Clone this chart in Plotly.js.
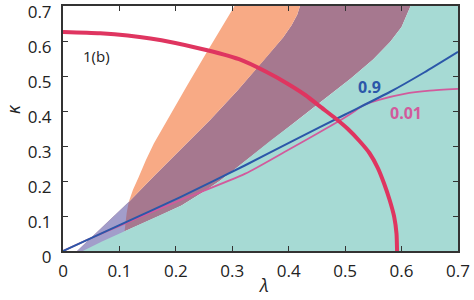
<!DOCTYPE html>
<html>
<head>
<meta charset="utf-8">
<script src="https://cdn.plot.ly/plotly-3.0.1.min.js"></script>
<style>html,body{margin:0;padding:0;background:#fff;}#chart{width:474px;height:300px;}</style>
</head>
<body>
<div id="chart"></div>
<script>
// Teal region boundary (upper-left edge)
var tealLam = [0.035, 0.07, 0.111, 0.17, 0.21, 0.25, 0.28, 0.30, 0.323, 0.368, 0.415, 0.46, 0.51, 0.55, 0.58, 0.60, 0.616];
var tealKap = [0.0, 0.028, 0.058, 0.10, 0.13, 0.17, 0.203, 0.228, 0.258, 0.316, 0.373, 0.43, 0.493, 0.548, 0.598, 0.64, 0.70];
// Lavender region left edge
var lavLam = [0.025, 0.1165];
var lavKap = [0.0, 0.14];
// Orange region left edge
var orangeLam = [0.110, 0.111, 0.113, 0.1165, 0.124, 0.134, 0.147, 0.161, 0.19, 0.22, 0.25, 0.28, 0.304];
var orangeKap = [0.06, 0.083, 0.11, 0.14, 0.175, 0.211, 0.26, 0.307, 0.39, 0.473, 0.555, 0.636, 0.70];
// Mauve (overlap) upper-left edge = orange right edge
var mauveLam = [0.1165, 0.16, 0.208, 0.261, 0.31, 0.356, 0.39, 0.405, 0.415, 0.42];
var mauveKap = [0.14, 0.212, 0.29, 0.375, 0.46, 0.545, 0.61, 0.645, 0.675, 0.70];
// Curve 0.9 (blue)
var blueLam = [0, 0.1, 0.208, 0.323, 0.409, 0.5, 0.58, 0.64, 0.7];
var blueKap = [0, 0.074, 0.154, 0.245, 0.316, 0.39, 0.455, 0.51, 0.569];
// Curve 0.01 (pink)
var pinkLam = [0, 0.05, 0.1, 0.2, 0.323, 0.398, 0.45, 0.49, 0.51, 0.534, 0.56, 0.605, 0.65, 0.7];
var pinkKap = [0, 0.037, 0.072, 0.14, 0.221, 0.288, 0.335, 0.372, 0.392, 0.418, 0.432, 0.449, 0.458, 0.463];
// Curve 1(b) (red)
var redLam = [0, 0.066, 0.155, 0.244, 0.312, 0.36, 0.398, 0.43, 0.457, 0.482, 0.504, 0.525, 0.543, 0.558, 0.569, 0.579, 0.587, 0.591, 0.592];
var redKap = [0.626, 0.622, 0.607, 0.578, 0.548, 0.512, 0.478, 0.445, 0.411, 0.38, 0.35, 0.315, 0.28, 0.237, 0.193, 0.145, 0.097, 0.05, 0.0];
// Ticks
var tickVals = [0, 0.1, 0.2, 0.3, 0.4, 0.5, 0.6, 0.7];
var tickText = ['0', '0.1', '0.2', '0.3', '0.4', '0.5', '0.6', '0.7'];

function rev(a){ return a.slice().reverse(); }

// Build polygons
var mauveX = lavLam.concat(mauveLam.slice(1), rev(tealLam));
var mauveY = lavKap.concat(mauveKap.slice(1), rev(tealKap));
var lavX = lavLam.concat(rev(orangeLam).slice(orangeLam.length - 3), [0.105]);
var lavY = lavKap.concat(rev(orangeKap).slice(orangeKap.length - 3), [0.0]);
var orX = orangeLam.slice(3).concat(rev(mauveLam));
var orY = orangeKap.slice(3).concat(rev(mauveKap));
var tealX = tealLam.concat([0.7, 0.7]);
var tealY = tealKap.concat([0.7, 0.0]);

function poly(x, y, c){
  return {x: x, y: y, type: 'scatter', mode: 'lines', fill: 'toself', fillcolor: c,
          line: {width: 0, color: c}, hoverinfo: 'skip', showlegend: false};
}
function curve(x, y, c, w){
  return {x: x, y: y, type: 'scatter', mode: 'lines', line: {color: c, width: w, shape: 'spline', smoothing: 0.6},
          showlegend: false};
}

var data = [
  poly(mauveX, mauveY, '#a6788f'),
  poly(lavX, lavY, '#a29dca'),
  poly(orX, orY, '#f8aa85'),
  poly(tealX, tealY, '#a6dad4'),
  curve(pinkLam, pinkKap, '#d25a9c', 1.8),
  curve(blueLam, blueKap, '#2b57a9', 2),
  curve(redLam, redKap, '#df3560', 4)
];

var axisCommon = {
  range: [0, 0.7], tickvals: tickVals, ticktext: tickText,
  ticks: 'inside', ticklen: 5, tickwidth: 1, tickcolor: '#333',
  showline: true, linecolor: '#333', linewidth: 2, mirror: 'ticks',
  showgrid: false, zeroline: false, ticklabeloverflow: 'allow',
  tickfont: {family: 'Open Sans', size: 17, color: '#222'}
};

var layout = {
  width: 474, height: 300,
  margin: {l: 63, r: 16, t: 6, b: 49},
  paper_bgcolor: '#fff', plot_bgcolor: '#fff',
  xaxis: Object.assign({}, axisCommon, {ticklabelstandoff: 4}),
  yaxis: Object.assign({}, axisCommon, {ticklabelstandoff: 6, ticklabelshift: 6}),
  annotations: [
    {xref: 'paper', yref: 'paper', x: -0.127, y: 0.579, xanchor: 'center', yanchor: 'middle',
     text: '<i>κ</i>', showarrow: false, textangle: -90,
     font: {family: 'Open Sans', size: 18, color: '#222'}},
    {xref: 'paper', yref: 'paper', x: 0.508, y: -0.14, xanchor: 'center', yanchor: 'middle',
     text: '<i>λ</i>', showarrow: false,
     font: {family: 'Open Sans', size: 18, color: '#222'}},
    {x: 0.059, y: 0.556, text: '1(b)', showarrow: false, font: {family: 'Open Sans', size: 15, color: '#222'}},
    {x: 0.543, y: 0.468, text: '<b>0.9</b>', showarrow: false, font: {family: 'Open Sans', size: 16, color: '#2b57a9'}},
    {x: 0.607, y: 0.395, text: '<b>0.01</b>', showarrow: false, font: {family: 'Open Sans', size: 16, color: '#d25a9c'}}
  ]
};

Plotly.newPlot('chart', data, layout, {staticPlot: true, displayModeBar: false});
</script>
</body>
</html>
